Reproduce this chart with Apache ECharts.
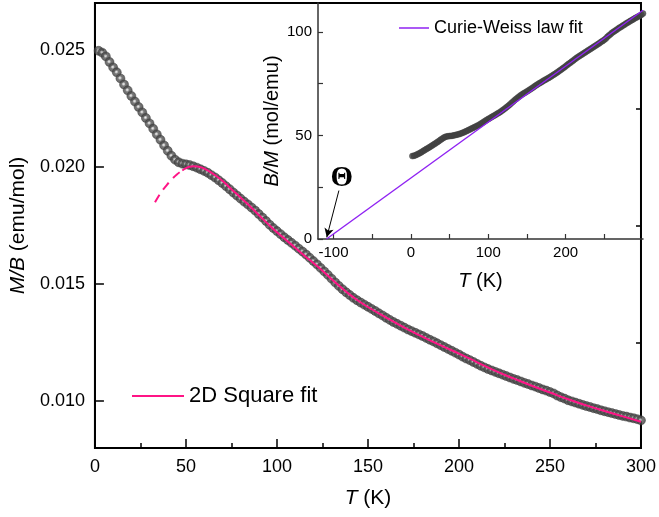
<!DOCTYPE html>
<html>
<head>
<meta charset="utf-8">
<script src="https://cdn.jsdelivr.net/npm/echarts@6/dist/echarts.min.js"></script>
<style>
  html, body { margin: 0; padding: 0; background: #fff; }
  #chart { width: 659px; height: 517px; }
</style>
</head>
<body>
<div id="chart"></div>
<script>
// Temperature grid of the measured susceptibility (K)
const temperature = [
  2, 4, 6, 8, 10, 12, 14, 16, 18, 20, 22, 24, 26, 28, 30, 32, 34, 36, 38, 40,
  42, 44, 46, 48, 50, 52, 54, 56, 58, 60, 62, 64, 66, 68, 70, 72, 74, 76, 78, 80,
  82, 84, 86, 88, 90, 92, 94, 96, 98, 100, 102, 104, 106, 108, 110, 112, 114, 116, 118, 120,
  122, 124, 126, 128, 130, 132, 134, 136, 138, 140, 142, 144, 146, 148, 150, 152, 154, 156, 158, 160,
  162, 164, 166, 168, 170, 172, 174, 176, 178, 180, 182, 184, 186, 188, 190, 192, 194, 196, 198, 200,
  202, 204, 206, 208, 210, 212, 214, 216, 218, 220, 222, 224, 226, 228, 230, 232, 234, 236, 238, 240,
  242, 244, 246, 248, 250, 252, 254, 256, 258, 260, 262, 264, 266, 268, 270, 272, 274, 276, 278, 280,
  282, 284, 286, 288, 290, 292, 294, 296, 298, 300
];

// Measured M/B (emu/mol)
const susceptibility = [
  0.02496, 0.02488, 0.02472, 0.02448, 0.02425, 0.02404, 0.02378, 0.02352, 0.02327, 0.02303,
  0.02279, 0.02256, 0.02233, 0.02209, 0.02186, 0.02163, 0.02139, 0.02116, 0.02092, 0.02069,
  0.02048, 0.02031, 0.02020, 0.02014, 0.02011, 0.02008, 0.02003, 0.01997, 0.01990, 0.01983,
  0.01975, 0.01965, 0.01955, 0.01943, 0.01931, 0.01918, 0.01905, 0.01891, 0.01878, 0.01865,
  0.01852, 0.01840, 0.01827, 0.01814, 0.01799, 0.01784, 0.01769, 0.01753, 0.01739, 0.01726,
  0.01713, 0.01700, 0.01688, 0.01676, 0.01664, 0.01651, 0.01639, 0.01626, 0.01612, 0.01598,
  0.01584, 0.01569, 0.01554, 0.01539, 0.01523, 0.01507, 0.01492, 0.01478, 0.01465, 0.01453,
  0.01441, 0.01431, 0.01421, 0.01412, 0.01403, 0.01394, 0.01385, 0.01375, 0.01366, 0.01356,
  0.01347, 0.01338, 0.01330, 0.01322, 0.01314, 0.01306, 0.01299, 0.01292, 0.01285, 0.01278,
  0.01270, 0.01262, 0.01255, 0.01247, 0.01239, 0.01231, 0.01223, 0.01215, 0.01207, 0.01199,
  0.01190, 0.01182, 0.01175, 0.01167, 0.01159, 0.01151, 0.01144, 0.01137, 0.01131, 0.01125,
  0.01119, 0.01113, 0.01107, 0.01101, 0.01095, 0.01090, 0.01084, 0.01078, 0.01073, 0.01067,
  0.01062, 0.01056, 0.01050, 0.01045, 0.01039, 0.01033, 0.01024, 0.01017, 0.01011, 0.01004,
  0.00999, 0.00994, 0.00989, 0.00984, 0.00979, 0.00975, 0.00970, 0.00966, 0.00961, 0.00957,
  0.00953, 0.00949, 0.00945, 0.00941, 0.00937, 0.00934, 0.00930, 0.00927, 0.00923, 0.00918
];

// Inverse susceptibility B/M (mol/emu) of the same measurement
const inverseSusceptibility = susceptibility.map(v => 1 / v);

// 2D square-lattice model: extrapolated (dashed) and fitted (solid) parts
const fitDashT = [33, 36, 39, 42, 45, 48];
const fitDashV = [0.01849, 0.01888, 0.01918, 0.01945, 0.01968, 0.01985];
const fitT = [48, 50, 52, 54, 56, 58, 60, 65, 70, 75, 80, 85, 90, 95, 100, 105, 110, 115, 120, 125,
  130, 135, 140, 145, 150, 160, 170, 180, 190, 200, 210, 220, 230, 240, 250, 260, 270, 280, 290, 300];
const fitV = [0.01985, 0.01995, 0.02001, 0.02003, 0.02002, 0.01999, 0.01993, 0.01970, 0.01941, 0.01905,
  0.01870, 0.01833, 0.01795, 0.01757, 0.01721, 0.01688, 0.01655, 0.01622, 0.01590, 0.01557,
  0.01521, 0.01487, 0.01455, 0.01427, 0.01402, 0.01357, 0.01314, 0.01275, 0.01238, 0.01203,
  0.01166, 0.01129, 0.01097, 0.01066, 0.01037, 0.01008, 0.00982, 0.00958, 0.00935, 0.00912];

// Curie-Weiss straight line, from Θ on the T axis up to 300 K
const cwT = [-109, 300];
const cwV = [0, 110.5];
const theta = -109;

// Tick positions
const mainYLabels = [0.010, 0.015, 0.020, 0.025];
const mainYMinor = [0.0125, 0.0175, 0.0225];
const insetXTicks = [-100, -50, 0, 50, 100, 150, 200, 250];
const insetXLabels = [-100, 0, 100, 200];
const insetYTicks = [0, 25, 50, 75, 100];
const insetYLabels = [0, 50, 100];

const zip = (xs, ys) => xs.map((x, i) => [x, ys[i]]);

const FONT = 'Liberation Sans, Arial, sans-serif';
const PINK = '#FF1486';
const PURPLE = '#8F22F2';

// shaded sphere marker for the measured points
const sphere = {
  type: 'radial', x: 0.45, y: 0.45, r: 0.55,
  colorStops: [
    { offset: 0, color: '#eeeeee' },
    { offset: 0.2, color: '#b4b4b4' },
    { offset: 0.38, color: '#585858' },
    { offset: 1, color: '#383838' }
  ]
};

const chart = echarts.init(document.getElementById('chart'), null, { renderer: 'canvas' });

chart.setOption({
  animation: false,
  backgroundColor: '#fff',
  textStyle: { fontFamily: FONT },
  grid: [
    { left: 91, top: 3, right: 16, bottom: 69, show: true, borderColor: '#000', borderWidth: 2, backgroundColor: 'transparent' },
    { left: 318, top: 3, right: 16, bottom: 278, show: false }
  ],
  legend: [
    {
      left: 132, top: 385, padding: 0,
      icon: 'rect', itemWidth: 52, itemHeight: 2,
      data: ['2D Square fit'],
      textStyle: { fontSize: 22, color: '#000', fontFamily: FONT }
    },
    {
      left: 399, top: 19, padding: 0,
      icon: 'rect', itemWidth: 30, itemHeight: 1.5,
      data: ['Curie-Weiss law fit'],
      textStyle: { fontSize: 18, color: '#000', fontFamily: FONT }
    }
  ],
  xAxis: [
    {
      gridIndex: 0, type: 'value', min: 0, max: 300, interval: 50,
      name: '{i|T} (K)', nameLocation: 'middle', nameGap: 40,
      nameTextStyle: { fontSize: 21, color: '#000', fontFamily: FONT, rich: { i: { fontStyle: 'italic', fontSize: 21, fontFamily: FONT } } },
      axisLine: { show: true, lineStyle: { color: '#000', width: 2 } },
      axisTick: { show: true, inside: true, length: 9, lineStyle: { color: '#000', width: 1.5 } },
      minorTick: { show: true, splitNumber: 2, length: 5, lineStyle: { color: '#000', width: 1.5 } },
      axisLabel: { fontSize: 18, color: '#000', margin: 10, fontFamily: FONT },
      splitLine: { show: false }
    },
    {
      gridIndex: 1, type: 'value', min: -120, max: 300,
      name: '{i|T} (K)', nameLocation: 'middle', nameGap: 32,
      nameTextStyle: { fontSize: 20, color: '#000', fontFamily: FONT, rich: { i: { fontStyle: 'italic', fontSize: 20, fontFamily: FONT } } },
      axisLine: { show: true, onZero: false, lineStyle: { color: '#333', width: 1.5 } },
      axisTick: { show: true, inside: true, length: 5, customValues: insetXTicks, lineStyle: { color: '#333', width: 1.2 } },
      axisLabel: { fontSize: 15, color: '#000', margin: 6, fontFamily: FONT, customValues: insetXLabels },
      splitLine: { show: false }
    }
  ],
  yAxis: [
    {
      gridIndex: 0, type: 'value', min: 0.008, max: 0.027,
      name: '{i|M/B} (emu/mol)', nameLocation: 'middle', nameGap: 63,
      nameTextStyle: { fontSize: 21, color: '#000', fontFamily: FONT, rich: { i: { fontStyle: 'italic', fontSize: 21, fontFamily: FONT } } },
      axisLine: { show: true, lineStyle: { color: '#000', width: 2 } },
      axisTick: { show: true, inside: true, length: 9, customValues: mainYLabels, lineStyle: { color: '#000', width: 1.5 } },
      axisLabel: { fontSize: 18, color: '#000', margin: 10, fontFamily: FONT, customValues: mainYLabels, formatter: v => v.toFixed(3) },
      splitLine: { show: false }
    },
    {
      gridIndex: 0, type: 'value', min: 0.008, max: 0.027,
      axisLine: { show: false },
      axisTick: { show: true, inside: true, length: 5, customValues: mainYMinor, lineStyle: { color: '#000', width: 1.5 } },
      axisLabel: { show: false },
      splitLine: { show: false }
    },
    {
      gridIndex: 1, type: 'value', min: 0, max: 114,
      name: '{i|B/M} (mol/emu)', nameLocation: 'middle', nameGap: 36,
      nameTextStyle: { fontSize: 20, color: '#000', fontFamily: FONT, rich: { i: { fontStyle: 'italic', fontSize: 20, fontFamily: FONT } } },
      axisLine: { show: true, onZero: false, lineStyle: { color: '#333', width: 1.5 } },
      axisTick: { show: true, inside: true, length: 5, customValues: insetYTicks, lineStyle: { color: '#333', width: 1.2 } },
      axisLabel: { fontSize: 15, color: '#000', margin: 6, fontFamily: FONT, customValues: insetYLabels },
      splitLine: { show: false }
    }
  ],
  series: [
    {
      name: 'M/B', type: 'scatter', xAxisIndex: 0, yAxisIndex: 0,
      data: zip(temperature, susceptibility),
      symbol: 'circle', symbolSize: 9,
      itemStyle: { color: sphere, borderColor: '#383838', borderWidth: 0.6 },
      z: 2
    },
    {
      name: '2D Square fit extrapolation', type: 'line', xAxisIndex: 0, yAxisIndex: 0,
      data: zip(fitDashT, fitDashV), smooth: true, symbol: 'none',
      lineStyle: { color: PINK, width: 2, type: [9, 6] },
      z: 3
    },
    {
      name: '2D Square fit', type: 'line', xAxisIndex: 0, yAxisIndex: 0,
      data: zip(fitT, fitV), smooth: true, symbol: 'none',
      itemStyle: { color: PINK },
      lineStyle: { color: PINK, width: 2 },
      z: 3
    },
    {
      name: 'B/M', type: 'scatter', xAxisIndex: 1, yAxisIndex: 2,
      data: zip(temperature, inverseSusceptibility),
      symbol: 'circle', symbolSize: 6,
      itemStyle: { color: '#444', borderColor: '#3a3a3a', borderWidth: 0.5 },
      z: 2
    },
    {
      name: 'Curie-Weiss law fit', type: 'line', xAxisIndex: 1, yAxisIndex: 2,
      data: zip(cwT, cwV), symbol: 'none',
      itemStyle: { color: PURPLE },
      lineStyle: { color: PURPLE, width: 1.4 },
      z: 3,
      markLine: {
        silent: true, animation: false,
        symbol: ['none', 'arrow'], symbolSize: [7, 9],
        lineStyle: { color: '#000', width: 1, type: 'solid' },
        label: { show: false },
        data: [[{ coord: [-93, 23.4] }, { coord: [theta + 0.3, 0.8] }]]
      },
      markPoint: {
        silent: true, animation: false,
        symbol: 'circle', symbolSize: 1,
        itemStyle: { color: 'rgba(0,0,0,0)' },
        data: [{
          coord: [-89.3, 29.2],
          label: { show: true, position: 'inside', formatter: 'Θ', fontSize: 29, fontWeight: 'bold', color: '#000', fontFamily: 'Liberation Serif, Times New Roman, serif' }
        }]
      }
    }
  ]
});
</script>
</body>
</html>
